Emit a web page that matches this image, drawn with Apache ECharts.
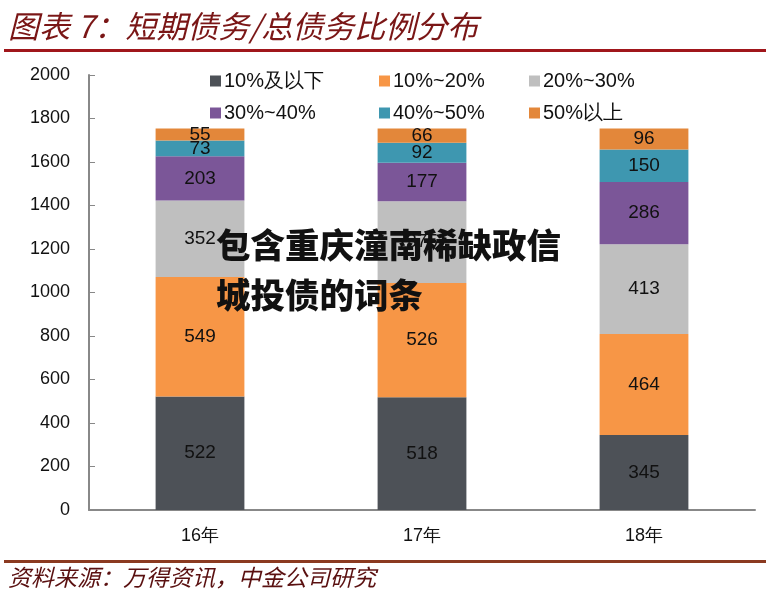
<!DOCTYPE html>
<html>
<head>
<meta charset="utf-8">
<script src="https://cdn.jsdelivr.net/npm/echarts@6/dist/echarts.min.js"></script>
<style>
html,body{margin:0;padding:0;background:#fff;}
#main{width:777px;height:598px;}
</style>
</head>
<body>
<div id="main"></div>
<script>
var categories = ['16年', '17年', '18年'];
var seriesNames = ['10%及以下', '10%~20%', '20%~30%', '30%~40%', '40%~50%', '50%以上'];
var s1 = [522, 518, 345];
var s2 = [549, 526, 464];
var s3 = [352, 375, 413];
var s4 = [203, 177, 286];
var s5 = [73, 92, 150];
var s6 = [55, 66, 96];
var yTicks = [0, 200, 400, 600, 800, 1000, 1200, 1400, 1600, 1800, 2000];

var colors = ['#4D5157', '#F79646', '#BFBFBF', '#7B5698', '#3E97B0', '#E3873A'];
var values = [s1, s2, s3, s4, s5, s6];
var font = 'Liberation Sans, Arial, sans-serif';

var chart = echarts.init(document.getElementById('main'));

var series = values.map(function (v, i) {
  return {
    name: seriesNames[i],
    type: 'bar',
    stack: 'total',
    barWidth: '40%',
    data: v,
    itemStyle: { color: colors[i] },
    label: {
      show: true,
      position: 'inside',
      color: '#111',
      fontSize: 19,
      fontFamily: font
    }
  };
});

var legendPos = [
  [205, 66], [374, 66], [524, 66],
  [205, 98], [374, 98], [524, 98]
];
var legends = seriesNames.map(function (n, i) {
  return {
    data: [n],
    left: legendPos[i][0],
    top: legendPos[i][1],
    icon: 'rect',
    itemWidth: 11,
    itemHeight: 11,
    itemGap: 4,
    textStyle: { fontSize: 20, color: '#111', fontFamily: font, padding: [0, 0, 0, -2] },
    selectedMode: false
  };
});

chart.setOption({
  animation: false,
  backgroundColor: '#fff',
  legend: legends,
  grid: { left: 89, right: 22, top: 75, bottom: 88 },
  xAxis: {
    type: 'category',
    data: categories,
    axisLine: { lineStyle: { color: '#888', width: 2 } },
    axisTick: { inside: true, length: 6, lineStyle: { color: '#888' } },
    axisLabel: { fontSize: 18, color: '#111', margin: 17, fontFamily: font }
  },
  yAxis: {
    type: 'value',
    min: yTicks[0],
    max: yTicks[yTicks.length - 1],
    interval: 200,
    splitLine: { show: false },
    axisLine: { show: true, lineStyle: { color: '#888', width: 2 } },
    axisTick: { show: true, inside: true, length: 6, lineStyle: { color: '#888' } },
    axisLabel: {
      fontSize: 18, color: '#111', margin: 19, fontFamily: font,
      formatter: function (v) { return String(v); }
    }
  },
  series: series,
  graphic: [
    {
      type: 'text', left: 8, top: 11,
      style: {
        text: '图表 7：短期债务/总债务比例分布',
        fontSize: 31, fontStyle: 'italic',
        fontFamily: 'Noto Sans CJK SC', fill: '#7A1616'
      }
    },
    {
      type: 'rect', shape: { x: 4, y: 49, width: 762, height: 3 },
      style: { fill: '#A0161B' }
    },
    {
      type: 'rect', shape: { x: 4, y: 560, width: 762, height: 3 },
      style: { fill: '#8B3A20' }
    },
    {
      type: 'text', left: 8, top: 566,
      style: {
        text: '资料来源：万得资讯，中金公司研究',
        fontSize: 23, fontStyle: 'italic',
        fontFamily: 'Noto Sans CJK SC', fill: '#5A1010'
      }
    },
    {
      type: 'text', left: 216, top: 220, z: 100,
      style: {
        text: '包含重庆潼南稀缺政信\n城投债的词条',
        fontSize: 34.5, fontWeight: 900, lineHeight: 50,
        fontFamily: 'Noto Sans CJK SC', fill: '#111'
      }
    }
  ]
});
</script>
</body>
</html>
